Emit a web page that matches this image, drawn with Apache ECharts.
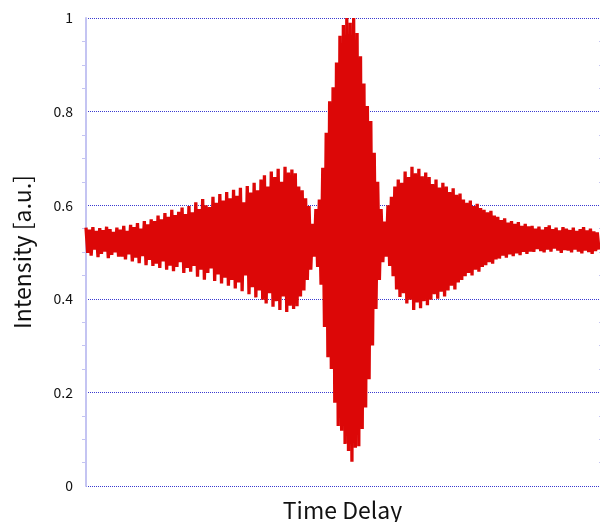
<!DOCTYPE html>
<html>
<head>
<meta charset="utf-8">
<style>
html, body { margin: 0; padding: 0; background: #fff; }
#main { width: 600px; height: 522px; }
</style>
</head>
<body>
<div id="main"></div>
<script src="https://cdn.jsdelivr.net/npm/echarts@6.0.0/dist/echarts.min.js"></script>
<script>
// upper and lower turning points of each fringe
var peaks = [
	0.552, 0.548, 0.553, 0.545, 0.551, 0.547, 0.554, 0.549, 0.543, 0.552,
	0.548, 0.556, 0.545, 0.558, 0.553, 0.562, 0.550, 0.566, 0.559, 0.570,
	0.566, 0.578, 0.570, 0.583, 0.575, 0.590, 0.579, 0.586, 0.595, 0.581,
	0.598, 0.585, 0.606, 0.592, 0.613, 0.600, 0.596, 0.618, 0.605, 0.624,
	0.610, 0.628, 0.615, 0.633, 0.620, 0.637, 0.606, 0.641, 0.627, 0.648,
	0.632, 0.655, 0.664, 0.640, 0.672, 0.660, 0.678, 0.650, 0.682, 0.670,
	0.676, 0.668, 0.640, 0.632, 0.615, 0.598, 0.560, 0.592, 0.612, 0.680,
	0.755, 0.822, 0.852, 0.905, 0.962, 0.985, 1.000, 0.990, 1.000, 0.968,
	0.918, 0.860, 0.812, 0.780, 0.712, 0.650, 0.592, 0.565, 0.600, 0.618,
	0.640, 0.655, 0.648, 0.672, 0.660, 0.682, 0.668, 0.678, 0.662, 0.670,
	0.660, 0.645, 0.655, 0.638, 0.648, 0.640, 0.628, 0.636, 0.622, 0.625,
	0.612, 0.605, 0.610, 0.598, 0.603, 0.594, 0.590, 0.585, 0.588, 0.578,
	0.575, 0.568, 0.572, 0.563, 0.566, 0.560, 0.564, 0.556, 0.560, 0.555,
	0.556, 0.550, 0.554, 0.548, 0.553, 0.557, 0.549, 0.552, 0.546, 0.553,
	0.550, 0.547, 0.552, 0.545, 0.549, 0.553, 0.546, 0.550, 0.544, 0.542
];
var troughs = [
	0.498, 0.492, 0.505, 0.489, 0.496, 0.501, 0.487, 0.494, 0.499, 0.490,
	0.490, 0.484, 0.495, 0.480, 0.488, 0.476, 0.491, 0.472, 0.483, 0.470,
	0.475, 0.466, 0.480, 0.462, 0.471, 0.459, 0.468, 0.478, 0.455, 0.466,
	0.458, 0.470, 0.447, 0.462, 0.441, 0.455, 0.465, 0.438, 0.452, 0.433,
	0.445, 0.428, 0.440, 0.422, 0.435, 0.416, 0.450, 0.410, 0.425, 0.403,
	0.418, 0.398, 0.390, 0.412, 0.383, 0.395, 0.376, 0.405, 0.372, 0.385,
	0.378, 0.384, 0.405, 0.418, 0.440, 0.462, 0.490, 0.468, 0.430, 0.340,
	0.275, 0.250, 0.178, 0.128, 0.118, 0.090, 0.075, 0.052, 0.082, 0.085,
	0.122, 0.168, 0.228, 0.300, 0.378, 0.440, 0.478, 0.490, 0.470, 0.448,
	0.420, 0.404, 0.412, 0.390, 0.398, 0.376, 0.392, 0.380, 0.395, 0.386,
	0.398, 0.410, 0.400, 0.415, 0.405, 0.418, 0.428, 0.420, 0.435, 0.440,
	0.448, 0.455, 0.450, 0.462, 0.458, 0.468, 0.472, 0.478, 0.475, 0.484,
	0.486, 0.492, 0.488, 0.495, 0.491, 0.497, 0.493, 0.500, 0.496, 0.501,
	0.500, 0.506, 0.502, 0.499, 0.505, 0.501, 0.507, 0.503, 0.498, 0.504,
	0.503, 0.499, 0.505, 0.501, 0.497, 0.503, 0.500, 0.496, 0.502, 0.505
];
var yTicks = [0, 0.2, 0.4, 0.6, 0.8, 1];

var points = [];
for (var i = 0; i < peaks.length; i++) {
	points.push([points.length, peaks[i]]);
	points.push([points.length, troughs[i]]);
}

var font = '"Noto Sans CJK JP", "Liberation Sans", sans-serif';
var tickColor = '#c4c4f2';

var myChart = echarts.init(document.getElementById('main'));
myChart.setOption({
	animation: false,
	grid: { left: 86, right: 1, top: 18, bottom: 36, outerBoundsMode: 'none', containLabel: false },
	xAxis: {
		type: 'value',
		min: 0,
		max: points.length - 1,
		name: 'Time Delay',
		nameLocation: 'middle',
		nameGap: 13,
		nameTextStyle: { fontFamily: font, fontSize: 23, color: '#111' },
		axisLine: { show: false },
		axisTick: { show: false },
		axisLabel: { show: false },
		splitLine: { show: false }
	},
	yAxis: [
		{
			type: 'value',
			min: 0,
			max: 1,
			interval: 0.2,
			name: 'Intensity [a.u.]',
			nameLocation: 'middle',
			nameGap: 52,
			nameTextStyle: { fontFamily: font, fontSize: 23, color: '#111' },
			axisLine: { show: true, lineStyle: { color: tickColor, width: 2 } },
			axisTick: { show: false },
			minorTick: { show: true, splitNumber: 4, length: 4, lineStyle: { color: tickColor } },
			axisLabel: {
				margin: 13,
				fontFamily: font,
				fontSize: 14,
				color: '#111',
				formatter: function (v) { return yTicks.indexOf(+v.toFixed(1)) >= 0 ? String(+v.toFixed(1)) : ''; }
			},
			splitLine: { show: true, lineStyle: { color: '#3a3ad0', type: 'dotted', width: 1 } }
		},
		{
			type: 'value',
			position: 'right',
			min: 0,
			max: 1,
			interval: 0.2,
			axisLine: { show: false },
			axisTick: { show: false },
			minorTick: { show: true, splitNumber: 4, length: 4, lineStyle: { color: tickColor } },
			axisLabel: { show: false },
			splitLine: { show: false }
		}
	],
	series: [{
		type: 'line',
		data: points,
		showSymbol: false,
		symbol: 'none',
		z: 3,
		lineStyle: { color: '#dc0707', width: 3.3, join: 'bevel' }
	}]
});
</script>
</body>
</html>
